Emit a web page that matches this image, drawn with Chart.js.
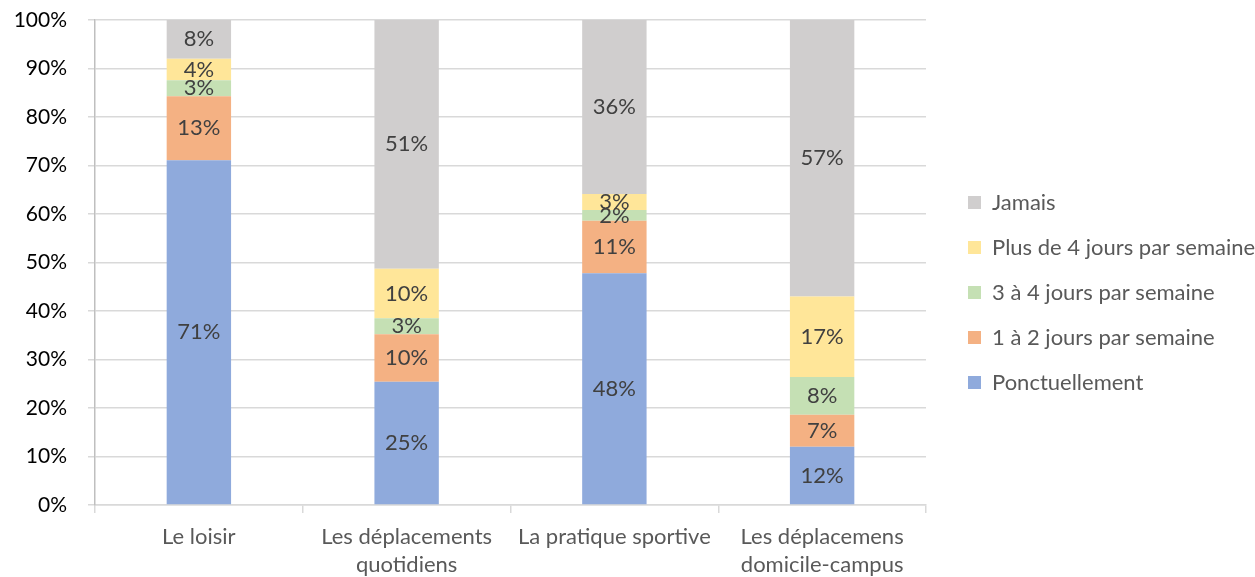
<!DOCTYPE html>
<html>
<head>
<meta charset="utf-8">
<script src="https://cdn.jsdelivr.net/npm/chart.js@4"></script>
<style>
  body { margin: 0; background: #fff; }
  #wrap { width: 1255px; height: 577px; position: relative; }
</style>
</head>
<body>
<div id="wrap"><canvas id="chart"></canvas></div>
<script>
// catégories et séries (% des répondants)
const categories = [
  'Le loisir',
  ['Les déplacements', 'quotidiens'],
  'La pratique sportive',
  ['Les déplacemens', 'domicile-campus']
];
const ponctuellement = [71.1, 25.4, 47.8, 12.0];
const unADeux = [13.2, 9.8, 10.8, 6.6];
const troisAQuatre = [3.3, 3.3, 2.2, 7.8];
const plusDeQuatre = [4.4, 10.2, 3.3, 16.6];
const jamais = [8.0, 51.3, 35.9, 57.0];
const yTicks = [0, 10, 20, 30, 40, 50, 60, 70, 80, 90, 100];

const FONT = 'Lato, "Open Sans", sans-serif';
const LEGEND_GAP = 19;
const LEGEND_SHIFT = -6;

// étiquettes de valeur au centre de chaque segment
const barLabels = {
  id: 'barLabels',
  afterDatasetsDraw(chart) {
    const ctx = chart.ctx;
    ctx.save();
    ctx.font = '22px ' + FONT;
    ctx.fillStyle = '#404040';
    ctx.textAlign = 'center';
    ctx.textBaseline = 'middle';
    chart.data.datasets.forEach((ds, i) => {
      const meta = chart.getDatasetMeta(i);
      meta.data.forEach((el, j) => {
        const y = (el.y + el.base) / 2;
        ctx.fillText(Math.round(ds.data[j]) + '%', el.x, y);
      });
    });
    ctx.restore();
  }
};

// un peu plus d'espace entre la zone de tracé et la légende
const legendGap = {
  id: 'legendGap',
  afterInit(chart) {
    const lg = chart.legend;
    const fit = lg.fit.bind(lg);
    lg.fit = function () {
      fit();
      this.width += LEGEND_GAP;
    };
  },
  afterLayout(chart) {
    const lg = chart.legend;
    lg.left += LEGEND_GAP;
    lg.top += LEGEND_SHIFT;
    lg.bottom += LEGEND_SHIFT;
  }
};

function drawChart() {
  const ctx = document.getElementById('chart').getContext('2d');
  new Chart(ctx, {
    type: 'bar',
    data: {
      labels: categories,
      datasets: [
        { label: 'Ponctuellement', data: ponctuellement, backgroundColor: '#8faadc' },
        { label: '1 à 2 jours par semaine', data: unADeux, backgroundColor: '#f4b183' },
        { label: '3 à 4 jours par semaine', data: troisAQuatre, backgroundColor: '#c5e0b4' },
        { label: 'Plus de 4 jours par semaine', data: plusDeQuatre, backgroundColor: '#ffe699' },
        { label: 'Jamais', data: jamais, backgroundColor: '#d0cece' }
      ]
    },
    options: {
      responsive: true,
      maintainAspectRatio: false,
      animation: false,
      barPercentage: 0.31,
      categoryPercentage: 1,
      layout: { padding: { top: 20, left: 15, right: 0, bottom: 0 } },
      scales: {
        x: {
          stacked: true,
          grid: { drawOnChartArea: false, color: '#d9d9d9', lineWidth: 1.5, tickLength: 8 },
          border: { color: '#d9d9d9', width: 1.5 },
          ticks: {
            color: '#595959',
            font: { family: FONT, size: 22, lineHeight: 1.27 },
            padding: 10,
            maxRotation: 0
          },
          afterFit(scale) {
            scale.height = 72;
          }
        },
        y: {
          stacked: true,
          min: 0,
          max: 100,
          afterBuildTicks(scale) {
            scale.ticks = yTicks.map(v => ({ value: v }));
          },
          grid: { color: '#d9d9d9', lineWidth: 1.5, tickLength: 7 },
          border: { color: '#bfbfbf', width: 1.5 },
          ticks: {
            color: '#000',
            font: { family: FONT, size: 21 },
            padding: 21,
            callback: v => v + '%'
          },
          afterFit(scale) {
            scale.width = 80;
            scale.paddingTop = 0;
            scale.paddingBottom = 0;
          }
        }
      },
      plugins: {
        legend: {
          position: 'right',
          reverse: true,
          labels: {
            boxWidth: 13,
            boxHeight: 13,
            padding: 23,
            color: '#595959',
            font: { family: FONT, size: 22 }
          }
        },
        tooltip: { enabled: false }
      }
    },
    plugins: [barLabels, legendGap]
  });
}

// attendre la police avant de mesurer les textes
document.fonts.load('21px Lato').then(drawChart, drawChart);
</script>
</body>
</html>
